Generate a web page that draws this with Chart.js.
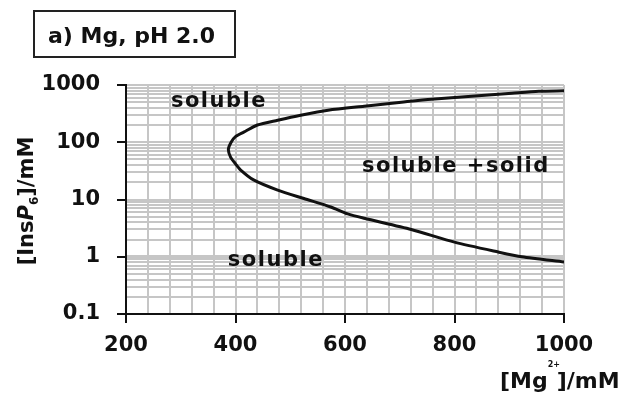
<!DOCTYPE html>
<html>
<head>
<meta charset="utf-8">
<script src="https://cdn.jsdelivr.net/npm/chart.js@4/dist/chart.umd.min.js"></script>
<style>
  body { margin: 0; background: #fff; }
</style>
</head>
<body>
<canvas id="phase" width="626" height="398"></canvas>
<script>
// solubility boundary, upper branch (from the nose out to 1000 mM Mg)
const upperMg = [387, 392, 400, 415, 440, 477, 519, 569, 635, 703, 758, 831, 905, 954, 1000]
const upperInsP6 = [75, 100, 125, 150, 200, 243, 297, 363, 427, 500, 565, 634, 719, 778, 790]

// lower branch
const lowerMg = [387, 391, 400, 409, 433, 477, 525, 574, 605, 635, 721, 800, 880, 923, 1000]
const lowerInsP6 = [75, 55, 42, 33, 22, 14.6, 10.4, 7.4, 5.6, 4.7, 3.0, 1.8, 1.21, 1.0, 0.81]

const xTickLabels = [200, 400, 600, 800, 1000]
const yTickLabels = [0.1, 1, 10, 100, 1000]
const regionLabels = ['soluble', 'soluble +solid', 'soluble']
// [Mg, InsP6] where each region name starts
const regionAt = [[282, 413], [631, 30.2], [386, 0.69]]

const FONT = '"DejaVu Sans", Verdana, sans-serif'
const INK = '#111'
const GRID = '#c6c6c6'

// one continuous line: upper branch right->nose, then lower branch nose->right
const boundary = upperMg.map((m, i) => ({ x: m, y: upperInsP6[i] })).reverse()
    .concat(lowerMg.slice(1).map((m, i) => ({ x: m, y: lowerInsP6[i + 1] })))

// draws a run of text and returns where it ends
const run = (ctx, text, x, y, font) => {
    ctx.font = font
    ctx.fillText(text, x, y)
    return x + ctx.measureText(text).width
}

const decorations = {
    id: 'decorations',
    afterDraw(chart) {
        const { ctx, scales: { x, y } } = chart
        ctx.save()
        ctx.fillStyle = INK
        ctx.textAlign = 'left'
        ctx.textBaseline = 'alphabetic'

        // region names inside the plot
        ctx.font = 'bold 21px ' + FONT
        ctx.letterSpacing = '1.5px'
        regionLabels.forEach((t, i) => {
            const [m, v] = regionAt[i]
            ctx.fillText(t, x.getPixelForValue(m), y.getPixelForValue(v))
        })
        ctx.letterSpacing = '0px'

        // panel tag
        ctx.lineWidth = 2
        ctx.strokeStyle = '#222'
        ctx.strokeRect(34, 11, 201, 46)
        run(ctx, 'a) Mg, pH 2.0', 48, 43, 'bold 22px ' + FONT)

        // x title: [Mg2+]/mM
        let px = run(ctx, '[Mg', 500, 388, 'bold 22px ' + FONT)
        run(ctx, '2+', px, 367, 'bold 8px ' + FONT)
        run(ctx, ']/mM', px + 9, 388, 'bold 22px ' + FONT)

        // y title: [InsP6]/mM, rotated
        ctx.translate(33, 201)
        ctx.rotate(-Math.PI / 2)
        const parts = [
            ['[Ins', 'bold 21px ' + FONT, 0],
            ['P', 'italic bold 21px ' + FONT, 0],
            ['6', 'bold 12px ' + FONT, 5],
            [']/mM', 'bold 21px ' + FONT, 0],
        ]
        let w = 0
        parts.forEach(([t, f]) => { ctx.font = f; w += ctx.measureText(t).width })
        let qx = -w / 2
        parts.forEach(([t, f, dy]) => { qx = run(ctx, t, qx, dy, f) })
        ctx.restore()
    }
}

new Chart(document.getElementById('phase'), {
    type: 'scatter',
    data: {
        datasets: [{
            data: boundary,
            showLine: true,
            borderColor: INK,
            borderWidth: 3,
            pointRadius: 0,
            tension: 0.25,
        }]
    },
    options: {
        responsive: false,
        animation: false,
        layout: { padding: { top: 85, right: 62, left: 0, bottom: 0 } },
        plugins: { legend: { display: false }, tooltip: { enabled: false } },
        scales: {
            x: {
                type: 'linear',
                min: 200,
                max: 1000,
                afterFit: (scale) => { scale.height = 84 },
                border: { color: INK, width: 2 },
                grid: {
                    color: GRID,
                    lineWidth: 2,
                    tickLength: 9,
                    tickWidth: 2,
                    tickColor: (c) => xTickLabels.includes(c.tick && c.tick.value) ? INK : 'rgba(0,0,0,0)',
                },
                ticks: {
                    stepSize: 40,
                    autoSkip: false,
                    maxRotation: 0,
                    padding: 10,
                    color: INK,
                    font: { family: FONT, size: 21, weight: 'bold' },
                    callback: (v) => xTickLabels.includes(v) ? String(v) : '',
                },
            },
            y: {
                type: 'logarithmic',
                min: 0.1,
                max: 1000,
                afterFit: (scale) => { scale.width = 126 },
                afterBuildTicks: (scale) => {
                    const ticks = []
                    for (let e = -1; e < 3; e++) {
                        for (let k = 1; k < 10; k++) ticks.push({ value: Number((k * 10 ** e).toPrecision(2)) })
                    }
                    ticks.push({ value: 1000 })
                    scale.ticks = ticks
                },
                border: { color: INK, width: 2 },
                grid: {
                    color: GRID,
                    lineWidth: (c) => (c.tick && c.tick.value === 1) ? 4 : 2,
                    tickLength: 9,
                    tickWidth: 2,
                    tickColor: (c) => yTickLabels.includes(c.tick && c.tick.value) ? INK : 'rgba(0,0,0,0)',
                },
                ticks: {
                    autoSkip: false,
                    padding: 17,
                    color: INK,
                    font: { family: FONT, size: 21, weight: 'bold' },
                    callback: (v) => yTickLabels.includes(v) ? String(v) : '',
                },
            },
        },
    },
    plugins: [decorations],
})
</script>
</body>
</html>
